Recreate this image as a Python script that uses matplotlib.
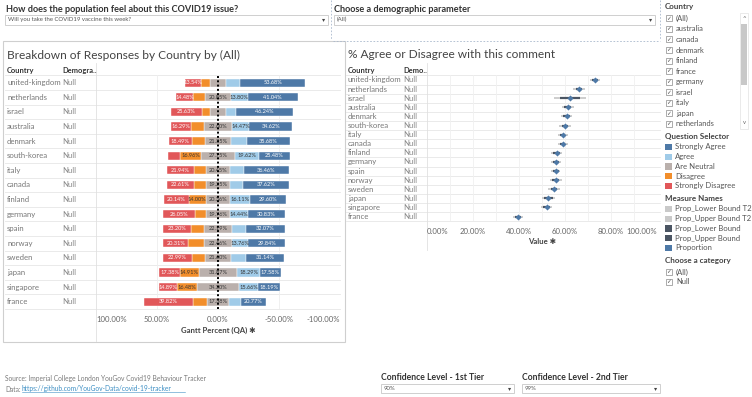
import matplotlib.pyplot as plt
from matplotlib.patches import Rectangle
from matplotlib.lines import Line2D

plt.rcParams['font.family'] = ['Lato', 'DejaVu Sans']

# Data
countries = ['united-kingdom', 'netherlands', 'israel', 'australia', 'denmark', 'south-korea',
             'italy', 'canada', 'finland', 'germany', 'spain', 'norway', 'sweden', 'japan',
             'singapore', 'france']
strongly_disagree = [13.54, 14.48, 25.63, 16.29, 18.49, 10.20, 21.94, 22.61, 20.14, 26.05,
                     23.20, 20.31, 22.99, 17.38, 14.89, 39.82]
disagree = [7.20, 9.80, 7.00, 11.00, 11.00, 16.96, 9.60, 9.90, 14.00, 8.90,
            10.70, 13.30, 10.90, 14.91, 16.48, 12.20]
neutral = [13.40, 20.85, 12.30, 22.60, 21.35, 27.75, 20.45, 19.25, 20.36, 19.76,
           22.19, 22.46, 21.60, 31.87, 34.30, 17.38]
agree = [11.20, 13.80, 8.80, 14.47, 12.80, 19.62, 11.20, 10.70, 16.11, 14.44,
         11.80, 13.76, 12.50, 18.29, 15.66, 9.90]
strongly_agree = [53.68, 41.04, 46.24, 34.62, 35.68, 25.48, 36.46, 37.62, 29.60, 30.83,
                  32.07, 29.84, 31.14, 17.58, 18.19, 20.77]

proportion = [73.0, 66.1, 62.2, 61.2, 60.7, 60.0, 59.0, 59.0, 56.4, 56.1, 56.0, 56.0, 55.2, 52.8, 52.0, 39.7]
lower_t1 = [71.8, 64.6, 57.9, 59.7, 59.2, 58.5, 57.8, 57.8, 54.9, 54.8, 54.8, 54.5, 53.7, 51.0, 50.5, 38.4]
upper_t1 = [74.2, 67.6, 66.5, 62.7, 62.2, 61.5, 60.2, 60.2, 57.9, 57.4, 57.2, 57.5, 56.7, 54.6, 53.5, 41.0]
lower_t2 = [71.0, 63.5, 55.2, 58.7, 58.2, 57.5, 56.8, 56.8, 53.9, 53.9, 54.0, 53.5, 52.7, 49.8, 49.5, 37.5]
upper_t2 = [75.0, 68.7, 69.2, 63.7, 63.2, 62.5, 61.2, 61.2, 58.9, 58.3, 58.0, 58.5, 57.7, 55.8, 54.5, 41.9]

bar_ticks = [100, 50, 0, -50, -100]
dot_ticks = [0, 20, 40, 60, 80, 100]

country_filter = ['(All)', 'australia', 'canada', 'denmark', 'finland', 'france', 'germany',
                  'israel', 'italy', 'japan', 'netherlands']
question_items = ['Strongly Agree', 'Agree', 'Are Neutral', 'Disagree', 'Strongly Disagree']
question_colors = ['#4e79a7', '#a0cbe8', '#bab0ac', '#f28e2b', '#e15759']
measure_items = ['Prop_Lower Bound T2', 'Prop_Upper Bound T2', 'Prop_Lower Bound',
                 'Prop_Upper Bound', 'Proportion']
measure_colors = ['#c9c9c9', '#c9c9c9', '#4b5563', '#4b5563', '#4e79a7']

W, H = 752, 397
fig = plt.figure(figsize=(W / 100, H / 100), dpi=100)
bg = fig.add_axes([0, 0, 1, 1])
bg.set_xlim(0, W)
bg.set_ylim(H, 0)
bg.axis('off')


def axes_px(x0, y0, x1, y1):
    return fig.add_axes([x0 / W, 1 - y1 / H, (x1 - x0) / W, (y1 - y0) / H], facecolor='none')


def hline(y, x0, x1, c='#e6e6e6', lw=0.6, **kw):
    bg.add_line(Line2D([x0, x1], [y, y], color=c, lw=lw, **kw))


def vline(x, y0, y1, c='#e6e6e6', lw=0.6, **kw):
    bg.add_line(Line2D([x, x], [y0, y1], color=c, lw=lw, **kw))


def dropdown(x0, x1, y0, y1, label):
    bg.add_patch(Rectangle((x0, y0), x1 - x0, y1 - y0, fill=False, ec='#c8c8c8', lw=0.6))
    bg.text(x0 + 3, (y0 + y1) / 2, label, fontsize=4.3, color='#555555', va='center')
    bg.text(x1 - 4, (y0 + y1) / 2, '▾', fontsize=4.5, color='#444444', va='center', ha='center',
            family='DejaVu Sans')


def checkbox(x, y, label):
    bg.add_patch(Rectangle((x, y - 3), 6, 6, fill=False, ec='#8a8a8a', lw=0.5))
    bg.text(x + 3, y, '✓', fontsize=4.2, color='#555555', ha='center', va='center', family='DejaVu Sans')
    bg.text(x + 10, y, label, fontsize=5.4, color='#555555', va='center')


# top controls
bg.text(6, 10, 'How does the population feel about this COVID19 issue?', fontsize=6.6,
        fontweight='bold', color='#333333', va='center')
dropdown(5, 328, 14.5, 24.5, 'Will you take the COVID19 vaccine this week?')
bg.text(334, 10, 'Choose a demographic parameter', fontsize=6.6, fontweight='bold',
        color='#333333', va='center')
dropdown(334, 655, 14.5, 24.5, '(All)')
vline(330.5, 0, 40, c='#a9b8cc', lw=0.6, ls=(0, (2, 2)))
vline(660, 0, 40, c='#a9b8cc', lw=0.6, ls=(0, (2, 2)))
hline(40.5, 333, 660, c='#a9b8cc', lw=0.6, ls=(0, (2, 2)))

# left panel frame
bg.add_patch(Rectangle((3, 41), 342, 301, fill=False, ec='#cfcfcf', lw=0.8))
bg.text(7, 55, 'Breakdown of Responses by Country by (All)', fontsize=8.6, color='#444444', va='center')
bg.text(7, 70, 'Country', fontsize=5.4, fontweight='bold', color='#333333', va='center')
bg.text(62, 70, 'Demogra..', fontsize=5.4, fontweight='bold', color='#333333', va='center')

row_h = 14.6
top = 75.4
for i, c in enumerate(countries):
    yc = top + row_h * (i + 0.5)
    bg.text(7, yc, c, fontsize=5.6, color='#777777', va='center')
    bg.text(62, yc, 'Null', fontsize=5.6, color='#888888', va='center')
    hline(top + row_h * i, 5, 340)
hline(top + row_h * len(countries), 5, 340)
vline(96, 63, 341, c='#e0e0e0')

ax1 = axes_px(96, top, 340, top + row_h * len(countries))
ypos = list(range(len(countries)))
bh = 0.55
half_n = [n / 2 for n in neutral]
segs = [
    (neutral, [-h for h in half_n], question_colors[2], '#333333'),
    (disagree, half_n, question_colors[3], '#333333'),
    (strongly_disagree, [h + d for h, d in zip(half_n, disagree)], question_colors[4], 'white'),
    (agree, [-h - a for h, a in zip(half_n, agree)], question_colors[1], '#333333'),
    (strongly_agree, [-h - a - s for h, a, s in zip(half_n, agree, strongly_agree)],
     question_colors[0], 'white'),
]
for vals, lefts, col, tcol in segs:
    ax1.barh(ypos, vals, left=lefts, height=bh, color=col, edgecolor='white', linewidth=0.3)
    for y, v, l in zip(ypos, vals, lefts):
        if v >= 13.5:
            ax1.text(l + v / 2, y, f'{v:.2f}%', fontsize=4.1, color=tcol, ha='center', va='center')
ax1.axvline(0, color='black', lw=1.4, ls=(0, (1, 1.2)), zorder=5)
for g in (50, -50):
    ax1.axvline(g, color='#eeeeee', lw=0.6, zorder=0)
ax1.set_xlim(100, -100)
ax1.set_ylim(len(countries) - 0.5, -0.5)
ax1.set_yticks([])
ax1.set_xticks(bar_ticks)
ax1.set_xticklabels([f'{t:.2f}%' for t in bar_ticks], fontsize=5.6, color='#666666')
labs = ax1.get_xticklabels()
labs[0].set_ha('left')
labs[-1].set_ha('right')
ax1.tick_params(axis='x', length=0, pad=5)
for s in ax1.spines.values():
    s.set_visible(False)
bg.text(218, 330, 'Gantt Percent (QA) ✱', fontsize=5.6, fontweight='bold', color='#444444',
        ha='center', va='center', family=['Lato', 'DejaVu Sans'])

# right panel
bg.text(348, 55, '% Agree or Disagree with this comment', fontsize=8.6, color='#444444', va='center')
bg.text(348, 70.5, 'Country', fontsize=5.4, fontweight='bold', color='#333333', va='center')
bg.text(403, 70.5, 'Demo..', fontsize=5.4, fontweight='bold', color='#333333', va='center')
row_h2 = 9.11
for i, c in enumerate(countries):
    yc = top + row_h2 * (i + 0.5)
    bg.text(348, yc, c, fontsize=5.6, color='#777777', va='center')
    bg.text(403, yc, 'Null', fontsize=5.6, color='#888888', va='center')
    hline(top + row_h2 * i, 346, 660)
hline(top + row_h2 * len(countries), 346, 660)
vline(427, 63, 250, c='#e0e0e0')

ax2 = axes_px(427, top, 657, top + row_h2 * len(countries))
for g in range(10, 100, 10):
    ax2.axvline(g, color='#f0f0f0', lw=0.6, zorder=0)
ax2.hlines(ypos, lower_t2, upper_t2, color=measure_colors[0], lw=1.3, zorder=2)
ax2.hlines(ypos, lower_t1, upper_t1, color=measure_colors[2], lw=1.6, zorder=3)
ax2.plot(proportion, ypos, 'D', color=measure_colors[4], ms=3.1, mew=0, zorder=4)
ax2.set_xlim(0, 100)
ax2.set_ylim(len(countries) - 0.5, -0.5)
ax2.set_yticks([])
ax2.set_xticks(dot_ticks)
ax2.set_xticklabels([f'{t:.2f}%' for t in dot_ticks], fontsize=5.6, color='#666666')
labs = ax2.get_xticklabels()
labs[0].set_ha('left')
labs[-1].set_ha('right')
ax2.tick_params(axis='x', length=0, pad=5)
for s in ax2.spines.values():
    s.set_visible(False)
bg.text(542, 242, 'Value ✱', fontsize=5.6, fontweight='bold', color='#444444', ha='center',
        va='center', family=['Lato', 'DejaVu Sans'])

# right-hand legends
bg.text(665, 7, 'Country', fontsize=5.8, fontweight='bold', color='#444444', va='center')
for i, lab in enumerate(country_filter):
    checkbox(666, 18.3 + 10.57 * i, lab)
bg.add_patch(Rectangle((740, 13), 8, 116, fill=False, ec='#e2e2e2', lw=0.5))
bg.add_patch(Rectangle((741, 24), 6, 61, color='#c8c8c8', lw=0))
bg.text(744, 18, '^', fontsize=4.5, color='#666666', ha='center', va='center')
bg.text(744, 123, 'v', fontsize=4.2, color='#666666', ha='center', va='center')

bg.text(665, 137, 'Question Selector', fontsize=5.8, fontweight='bold', color='#444444', va='center')
for i, (lab, col) in enumerate(zip(question_items, question_colors)):
    y = 147 + 9.7 * i
    bg.add_patch(Rectangle((665, y - 3.2), 6.5, 6.5, color=col, lw=0))
    bg.text(675, y, lab, fontsize=5.6, color='#555555', va='center')

bg.text(665, 198.5, 'Measure Names', fontsize=5.8, fontweight='bold', color='#444444', va='center')
for i, (lab, col) in enumerate(zip(measure_items, measure_colors)):
    y = 209 + 9.7 * i
    bg.add_patch(Rectangle((665, y - 3.2), 6.5, 6.5, color=col, lw=0))
    bg.text(675, y, lab, fontsize=5.6, color='#555555', va='center')

bg.text(665, 261, 'Choose a category', fontsize=5.8, fontweight='bold', color='#444444', va='center')
checkbox(666, 272, '(All)')
checkbox(666, 281.5, 'Null')

# footer
bg.text(5, 378, 'Source: Imperial College London YouGov Covid19 Behaviour Tracker', fontsize=4.8,
        color='#7a7a7a', va='center')
bg.text(5, 389, 'Data:', fontsize=4.8, color='#7a7a7a', va='center')
bg.text(22, 389, 'https://github.com/YouGov-Data/covid-19-tracker', fontsize=4.8, color='#3d8fc4',
        va='center')
hline(392.3, 22, 185, c='#3d8fc4', lw=0.4)

bg.text(381, 378, 'Confidence Level - 1st Tier', fontsize=6.2, fontweight='bold', color='#333333',
        va='center')
dropdown(381, 514, 384, 393, '90%')
bg.text(522, 378, 'Confidence Level - 2nd Tier', fontsize=6.2, fontweight='bold', color='#333333',
        va='center')
dropdown(522, 660, 384, 393, '99%')

fig.savefig('out.png', dpi=100)
